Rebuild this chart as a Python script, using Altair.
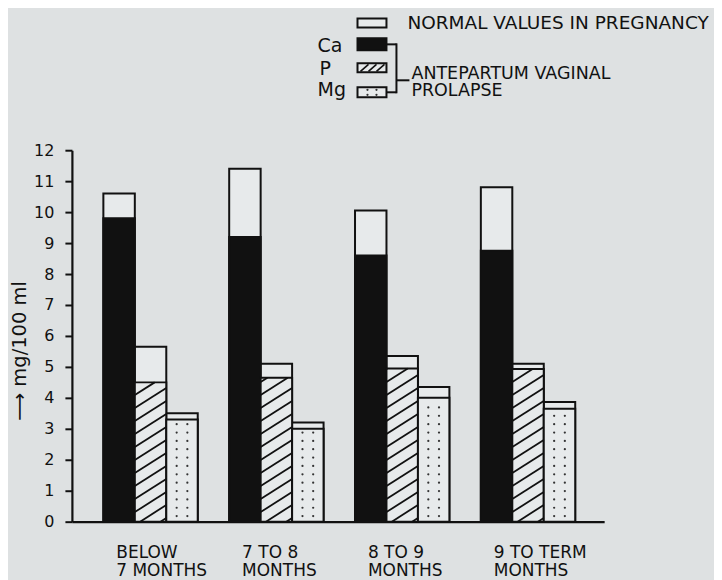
import altair as alt
import pandas as pd

# ---------------- data ----------------
group_labels = ["BELOW\n7 MONTHS", "7 TO 8\nMONTHS", "8 TO 9\nMONTHS", "9 TO TERM\nMONTHS"]
series = ["Ca", "P", "Mg"]
normal_ca = [10.6, 11.4, 10.05, 10.8]
avp_ca = [9.8, 9.2, 8.6, 8.75]
normal_p = [5.65, 5.1, 5.35, 5.1]
avp_p = [4.5, 4.65, 4.95, 4.93]
normal_mg = [3.5, 3.2, 4.35, 3.87]
avp_mg = [3.3, 3.0, 4.0, 3.65]
y_ticks = list(range(0, 13))

# ---------------- layout ----------------
W, H = 533, 372
XMAX = 16.92          # x in "bar-width" units
YMAX = 12
FONT = "DejaVu Sans"
INK = "#111111"
BG = "#dee1e2"
PAPER = "#e7eaeb"

def center(g):
    return 2.5 + 4 * g

offsets = {"Ca": -1.5, "P": -0.5, "Mg": 0.5}
normals = {"Ca": normal_ca, "P": normal_p, "Mg": normal_mg}
avps = {"Ca": avp_ca, "P": avp_p, "Mg": avp_mg}

rows = []
for g in range(len(group_labels)):
    for s in series:
        x0 = center(g) + offsets[s]
        rows.append(dict(group=g, series=s, x0=x0, x1=x0 + 1,
                         normal=normals[s][g], avp=avps[s][g], base=0.0))
bars = pd.DataFrame(rows)

# hatch lines for P bars (diagonal ///)
RISE, STEP = 0.65, 0.42
hatch = []
for g in range(len(group_labels)):
    xl = center(g) + offsets["P"]
    top = avp_p[g]
    b = -RISE + 0.12
    while b < top:
        t0 = max(0.0, -b / RISE)
        t1 = min(1.0, (top - b) / RISE)
        if t1 > t0:
            hatch.append(dict(hx0=xl + t0, hx1=xl + t1, hy0=b + RISE * t0, hy1=b + RISE * t1))
        b += STEP
hatch = pd.DataFrame(hatch)

# dot pattern for Mg bars
dots = []
for g in range(len(group_labels)):
    xl = center(g) + offsets["Mg"]
    yy = 0.18
    while yy < avp_mg[g] - 0.08:
        for fx in (0.33, 0.67):
            dots.append(dict(dx=xl + fx, dy=yy))
        yy += 0.27
dots = pd.DataFrame(dots)

labels = pd.DataFrame(dict(lx=[center(g) - 1.5 + 0.41 for g in range(4)], label=group_labels))

xscale = alt.Scale(domain=[0, XMAX], nice=False, zero=False)
yscale = alt.Scale(domain=[0, YMAX], nice=False)
xaxis = alt.Axis(domain=True, ticks=False, labels=False, grid=False, title=None,
                 domainWidth=2.2, domainColor=INK)
yaxis = alt.Axis(values=y_ticks, grid=False, title=None, domainWidth=2.2, domainColor=INK,
                 tickColor=INK, tickWidth=2, tickSize=7, labelFontSize=16, labelFont=FONT,
                 labelColor=INK, labelPadding=11)

normal_layer = alt.Chart(bars).mark_rect(fill=PAPER, stroke=INK, strokeWidth=2).encode(
    x=alt.X("x0:Q", scale=xscale, axis=xaxis),
    x2="x1:Q",
    y=alt.Y("normal:Q", scale=yscale, axis=yaxis),
    y2="base:Q",
)

avp_layer = alt.Chart(bars).mark_rect(stroke=INK, strokeWidth=2).encode(
    x=alt.X("x0:Q", scale=xscale, axis=xaxis),
    x2="x1:Q",
    y=alt.Y("avp:Q", scale=yscale, axis=yaxis),
    y2="base:Q",
    fill=alt.Fill("series:N", scale=alt.Scale(domain=series, range=[INK, PAPER, PAPER]), legend=None),
)

hatch_layer = alt.Chart(hatch).mark_rule(color=INK, strokeWidth=1.8).encode(
    x=alt.X("hx0:Q", scale=xscale, axis=xaxis), x2="hx1:Q",
    y=alt.Y("hy0:Q", scale=yscale, axis=yaxis), y2="hy1:Q",
)

dot_layer = alt.Chart(dots).mark_circle(size=5, color="#333333", opacity=1).encode(
    x=alt.X("dx:Q", scale=xscale, axis=xaxis),
    y=alt.Y("dy:Q", scale=yscale, axis=yaxis),
)

label_layer = alt.Chart(labels).mark_text(
    align="left", baseline="middle", lineBreak="\n", fontSize=17, lineHeight=18,
    font=FONT, color=INK).encode(
    x=alt.X("lx:Q", scale=xscale, axis=xaxis),
    y=alt.value(H + 31),
    text="label:N",
)

# ---------------- legend / title (drawn in pixels) ----------------
one = pd.DataFrame({"a": [0]})

def prect(x, x2, y, y2, fill):
    return alt.Chart(one).mark_rect(fill=fill, stroke=INK, strokeWidth=2).encode(
        x=alt.value(x), x2=alt.value(x2), y=alt.value(y), y2=alt.value(y2))

def ptext(txt, x, y, size=18.5, align="left", angle=0):
    m = alt.Chart(one).mark_text(text=txt, align=align, baseline="middle", fontSize=size,
                                 font=FONT, color=INK, angle=angle)
    return m.encode(x=alt.value(x), y=alt.value(y))

def pline(x, y, x2=None, y2=None, w=2):
    enc = dict(x=alt.value(x), y=alt.value(y))
    if x2 is not None:
        enc["x2"] = alt.value(x2)
    if y2 is not None:
        enc["y2"] = alt.value(y2)
    return alt.Chart(one).mark_rule(color=INK, strokeWidth=w).encode(**enc)

def pdot(x, y):
    return alt.Chart(one).mark_circle(size=5, color="#333333", opacity=1).encode(
        x=alt.value(x), y=alt.value(y))

LX0, LX1 = 286, 315
legend = [
    prect(LX0, LX1, -132, -123, PAPER),
    prect(LX0, LX1, -112, -100, INK),
    prect(LX0, LX1, -87, -78, PAPER),
    prect(LX0, LX1, -63, -53, PAPER),
    pline(289, -79, 297, -86, 1.6),
    pline(297, -79, 305, -86, 1.6),
    pline(305, -79, 313, -86, 1.6),
    pdot(296, -60.5), pdot(305, -60.5), pdot(296, -55.5), pdot(305, -55.5),
    ptext("NORMAL VALUES IN PREGNANCY", 336, -127),
    ptext("Ca", 246, -104, 19),
    ptext("P", 248, -81, 19),
    ptext("Mg", 246, -60, 19),
    pline(LX1, -106, 325),
    pline(325, -107, None, -57),
    pline(LX1, -58, 325),
    pline(325, -70, 338),
    ptext("ANTEPARTUM VAGINAL", 340, -76, 17.5),
    ptext("PROLAPSE", 340, -59, 17.5),
    ptext("\u27f6 mg/100 ml", -52, 201, 19.5, "center", 270),
]

chart = alt.layer(normal_layer, avp_layer, hatch_layer, dot_layer, label_layer, *legend).properties(
    width=W, height=H,
    autosize=alt.AutoSizeParams(type="none"),
    padding={"left": 64, "top": 142, "right": 110, "bottom": 58},
    background=BG,
).configure_view(strokeWidth=0).configure_axis(labelFont=FONT)

chart.save("out.html", embed_options={"renderer": "svg", "actions": False})
